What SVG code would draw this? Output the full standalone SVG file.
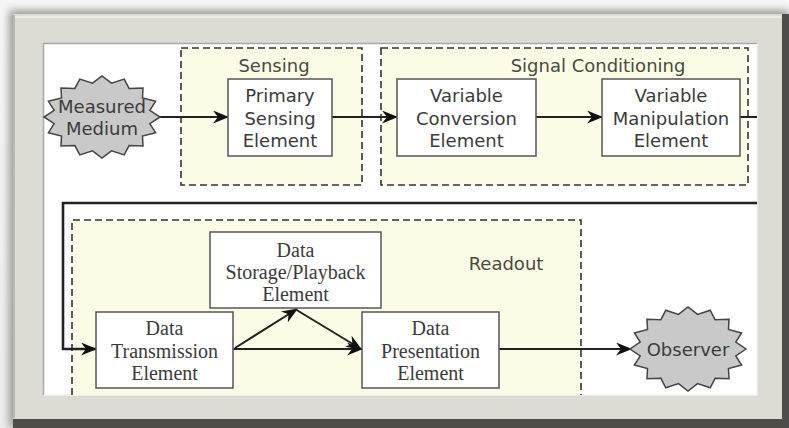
<svg xmlns="http://www.w3.org/2000/svg" xmlns:xlink="http://www.w3.org/1999/xlink" width="789" height="428" viewBox="0 0 789 428">
  <defs>
    <style>
      .sans { font-family: "DejaVu Sans", Verdana, sans-serif; font-size: 18px; fill: #3b3b3b; text-anchor: middle; }
      .serif { font-family: "Liberation Serif", "Times New Roman", serif; font-size: 20px; fill: #3b3b3b; text-anchor: middle; }
      .label { font-family: "DejaVu Sans", Verdana, sans-serif; font-size: 18px; fill: #4a4a3e; text-anchor: middle; }
      .box { fill: #ffffff; stroke: #555555; stroke-width: 1.5; }
      .group { fill: #fcfce6; stroke: #333333; stroke-width: 1.6; stroke-dasharray: 7 4; }
      .grpedge { fill: none; stroke: #333333; stroke-width: 1.6; stroke-dasharray: 7 4; }
      .wire { fill: none; stroke: #222222; stroke-width: 2; }
      .loop { fill: none; stroke: #222222; stroke-width: 2.6; }
      .burst { fill: #c9c9c9; stroke: #444444; stroke-width: 1.5; }
    </style>
    <marker id="arrow" viewBox="0 0 16 13" refX="15" refY="6.5" markerWidth="16" markerHeight="13" markerUnits="userSpaceOnUse" orient="auto">
      <path d="M0,0 L16,6.5 L0,13 L5,6.5 z" fill="#111111"/>
    </marker>
    <!-- unit starburst, 16 spikes, scaled per use -->
    <polygon id="star" vector-effect="non-scaling-stroke" points="100,0 82.4,16.4 92.4,38.3 69.8,46.7 70.7,70.7 46.7,69.8 38.3,92.4 16.4,82.4 0,100 -16.4,82.4 -38.3,92.4 -46.7,69.8 -70.7,70.7 -69.8,46.7 -92.4,38.3 -82.4,16.4 -100,0 -82.4,-16.4 -92.4,-38.3 -69.8,-46.7 -70.7,-70.7 -46.7,-69.8 -38.3,-92.4 -16.4,-82.4 0,-100 16.4,-82.4 38.3,-92.4 46.7,-69.8 70.7,-70.7 69.8,-46.7 92.4,-38.3 82.4,-16.4"/>
    <linearGradient id="bg" x1="0" y1="0" x2="0" y2="1">
      <stop offset="0" stop-color="#f7f7f7"/>
      <stop offset="1" stop-color="#eeeeee"/>
    </linearGradient>
    <filter id="soft" x="-5%" y="-5%" width="110%" height="110%">
      <feGaussianBlur stdDeviation="4"/>
    </filter>
  </defs>

  <!-- page background and picture frame -->
  <rect x="0" y="0" width="789" height="428" fill="url(#bg)"/>
  <rect x="9" y="10" width="780" height="418" fill="#9a9a96" filter="url(#soft)"/>
  <rect x="13" y="14" width="776" height="414" fill="#4e4d4a"/>
  <rect x="13" y="14" width="769" height="405" fill="#dcdbd4"/>
  <line x1="14" y1="17" x2="781" y2="17" stroke="#f3f2ea" stroke-width="1.5"/>
  <line x1="14" y1="15" x2="14" y2="418" stroke="#b9b8b0" stroke-width="2"/>
  <rect x="43" y="43" width="714" height="352" fill="#ffffff"/>
  <path d="M43.5,395 V43.5 H757" fill="none" stroke="#a9a9a6" stroke-width="1.5"/>
  <path d="M44,395 H757 V44" fill="none" stroke="#f2f2ee" stroke-width="1.5"/>

  <!-- stage groups -->
  <g id="sensing">
    <rect class="group" x="181" y="48" width="181" height="137"/>
    <text class="label" x="274" y="72">Sensing</text>
  </g>
  <g id="signal-conditioning">
    <rect class="group" x="381" y="48" width="367" height="137"/>
    <text class="label" x="598" y="72">Signal Conditioning</text>
  </g>
  <g id="readout">
    <rect x="72" y="220" width="509" height="175" fill="#fcfce6"/>
    <path class="grpedge" d="M72,395 V220 H581 V395"/>
    <text class="label" x="506" y="270">Readout</text>
  </g>

  <!-- connectors -->
  <g id="connectors">
    <line class="wire" x1="160" y1="117" x2="228" y2="117" marker-end="url(#arrow)"/>
    <line class="wire" x1="332" y1="117" x2="397" y2="117" marker-end="url(#arrow)"/>
    <line class="wire" x1="536" y1="117" x2="602" y2="117" marker-end="url(#arrow)"/>
    <line class="wire" x1="740" y1="117" x2="757" y2="117"/>
    <path class="loop" d="M757,203 H63 V349 H96" marker-end="url(#arrow)"/>
    <line class="wire" x1="233" y1="349" x2="362" y2="349" marker-end="url(#arrow)"/>
    <line class="wire" x1="235" y1="348" x2="297" y2="309" marker-end="url(#arrow)"/>
    <line class="wire" x1="295" y1="309" x2="361" y2="349" marker-end="url(#arrow)"/>
    <line class="wire" x1="499" y1="349" x2="631" y2="349" marker-end="url(#arrow)"/>
  </g>

  <!-- nodes -->
  <g id="measured-medium">
    <use xlink:href="#star" class="burst" transform="translate(102,117) scale(0.58,0.41)"/>
    <text class="sans" x="102" y="113">Measured</text>
    <text class="sans" x="102" y="135">Medium</text>
  </g>
  <g id="primary-sensing">
    <rect class="box" x="228" y="79" width="104" height="77"/>
    <text class="sans" x="280" y="102">Primary</text>
    <text class="sans" x="280" y="124.5">Sensing</text>
    <text class="sans" x="280" y="147">Element</text>
  </g>
  <g id="variable-conversion">
    <rect class="box" x="397" y="79" width="139" height="77"/>
    <text class="sans" x="466.5" y="102">Variable</text>
    <text class="sans" x="466.5" y="124.5">Conversion</text>
    <text class="sans" x="466.5" y="147">Element</text>
  </g>
  <g id="variable-manipulation">
    <rect class="box" x="602" y="79" width="138" height="77"/>
    <text class="sans" x="671" y="102">Variable</text>
    <text class="sans" x="671" y="124.5">Manipulation</text>
    <text class="sans" x="671" y="147">Element</text>
  </g>
  <g id="data-storage">
    <rect class="box" x="210" y="232" width="171" height="76"/>
    <text class="serif" x="295.5" y="257">Data</text>
    <text class="serif" x="295.5" y="279">Storage/Playback</text>
    <text class="serif" x="295.5" y="301">Element</text>
  </g>
  <g id="data-transmission">
    <rect class="box" x="96" y="312" width="137" height="76"/>
    <text class="serif" x="164.5" y="335">Data</text>
    <text class="serif" x="164.5" y="357.5">Transmission</text>
    <text class="serif" x="164.5" y="380">Element</text>
  </g>
  <g id="data-presentation">
    <rect class="box" x="362" y="312" width="137" height="76"/>
    <text class="serif" x="430.5" y="335">Data</text>
    <text class="serif" x="430.5" y="357.5">Presentation</text>
    <text class="serif" x="430.5" y="380">Element</text>
  </g>
  <g id="observer">
    <use xlink:href="#star" class="burst" transform="translate(688,349) scale(0.58,0.42)"/>
    <text class="sans" x="688" y="356">Observer</text>
  </g>
</svg>
